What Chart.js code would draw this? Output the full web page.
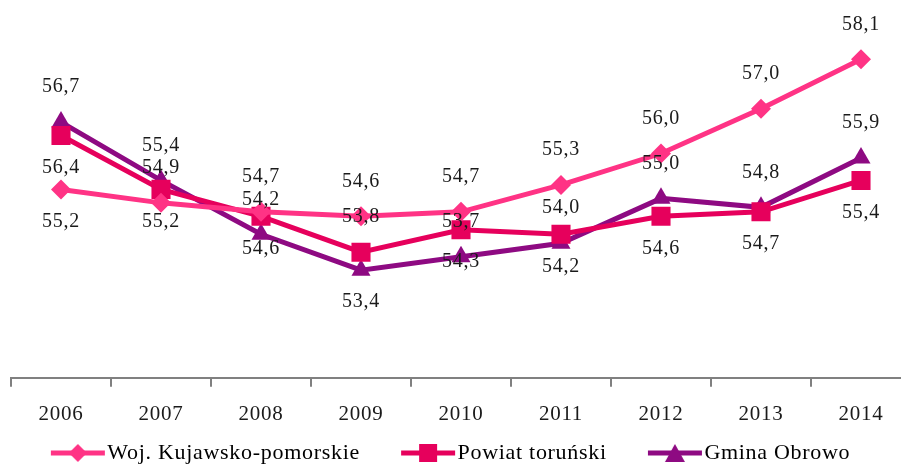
<!DOCTYPE html>
<html>
<head>
<meta charset="utf-8">
<script src="https://cdn.jsdelivr.net/npm/chart.js@4"></script>
<style>
  html, body { margin: 0; padding: 0; background: #fff; overflow: hidden; }
  #c { display: block; }
</style>
</head>
<body>
<canvas id="c" width="911" height="468"></canvas>
<script>
const years = ["2006", "2007", "2008", "2009", "2010", "2011", "2012", "2013", "2014"];
const woj = [55.2, 54.9, 54.7, 54.6, 54.7, 55.3, 56.0, 57.0, 58.1];
const powiat = [56.4, 55.2, 54.6, 53.8, 54.3, 54.2, 54.6, 54.7, 55.4];
const gmina = [56.7, 55.4, 54.2, 53.4, 53.7, 54.0, 55.0, 54.8, 55.9];

const FONT = "'Liberation Serif', 'DejaVu Serif', serif";

// little canvas used as legend symbol: line with marker on it
function legendIcon(color, style) {
  const cv = document.createElement("canvas");
  cv.width = 56; cv.height = 20;
  const g = cv.getContext("2d");
  g.strokeStyle = color; g.fillStyle = color; g.lineWidth = 5;
  g.beginPath(); g.moveTo(1, 10); g.lineTo(55, 10); g.stroke();
  g.beginPath();
  if (style === "rectRot") {
    g.moveTo(28, 1); g.lineTo(37, 10); g.lineTo(28, 19); g.lineTo(19, 10);
  } else if (style === "rect") {
    g.rect(19, 1, 18, 18);
  } else {
    g.moveTo(28, 1); g.lineTo(38, 19); g.lineTo(18, 19);
  }
  g.closePath(); g.fill();
  return cv;
}

function series(label, data, color, style, radius, labelPos) {
  return {
    label, data,
    borderColor: color, backgroundColor: color,
    borderWidth: 5,
    pointStyle: style, pointRadius: radius, pointHoverRadius: radius,
    pointBorderWidth: 0,
    tension: 0,
    legendIcon: legendIcon(color, style),
    labelPos
  };
}

// wider letter spacing to get closer to the Garamond look
// (set again before layout and draw, resizing the canvas resets it)
const spacing = {
  id: "spacing",
  beforeLayout(chart) { chart.ctx.letterSpacing = "0.7px"; },
  beforeDraw(chart) { chart.ctx.letterSpacing = "0.7px"; }
};

// draws value labels (comma decimals) above or below each point
const valueLabels = {
  id: "valueLabels",
  afterDatasetsDraw(chart) {
    const ctx = chart.ctx;
    ctx.save();
    ctx.font = "20px " + FONT;
    ctx.fillStyle = "#1a1a1a";
    ctx.textAlign = "center";
    ctx.textBaseline = "middle";
    chart.data.datasets.forEach((ds, i) => {
      chart.getDatasetMeta(i).data.forEach((pt, j) => {
        const off = ds.labelPos[j] === "b" ? 32 : -35;
        ctx.fillText(ds.data[j].toFixed(1).replace(".", ","), pt.x, pt.y + off);
      });
    });
    ctx.restore();
  }
};

new Chart(document.getElementById("c"), {
  type: "line",
  data: {
    labels: years,
    datasets: [
      series("Woj. Kujawsko-pomorskie", woj, "#FF3385", "rectRot", 10,
        ["b", "a", "a", "a", "a", "a", "a", "a", "a"]),
      series("Powiat toruński", powiat, "#E6005C", "rect", 13.5,
        ["b", "b", "b", "a", "b", "b", "b", "b", "b"]),
      series("Gmina Obrowo", gmina, "#8E0A82", "triangle", 11,
        ["a", "a", "a", "b", "a", "a", "a", "a", "a"])
    ]
  },
  options: {
    responsive: false,
    animation: false,
    layout: { autoPadding: false, padding: { top: 1, left: 11, right: 0, bottom: -6 } },
    scales: {
      x: {
        offset: true,
        grid: {
          offset: true,
          drawOnChartArea: false,
          color: "#808080",
          tickLength: 9,
          lineWidth: 2
        },
        border: { color: "#808080", width: 2 },
        ticks: { color: "#1a1a1a", font: { family: FONT, size: 21 }, padding: 15 }
      },
      y: {
        display: false,
        min: 51,
        max: 59.4
      }
    },
    plugins: {
      tooltip: { enabled: false },
      legend: {
        position: "bottom",
        labels: {
          usePointStyle: true,
          pointStyleWidth: 37,
          padding: 0,
          color: "#1a1a1a",
          font: { family: FONT, size: 22 },
          generateLabels(chart) {
            const n = chart.data.datasets.length;
            return chart.data.datasets.map((ds, i) => ({
              // trailing spaces keep the gap between entries and shift the row left
              text: ds.label + (i < n - 1 ? "        " : "  "),
              pointStyle: ds.legendIcon,
              fillStyle: ds.borderColor,
              strokeStyle: ds.borderColor,
              lineWidth: 0,
              hidden: false,
              datasetIndex: i
            }));
          }
        }
      }
    }
  },
  plugins: [spacing, valueLabels]
});
</script>
</body>
</html>
